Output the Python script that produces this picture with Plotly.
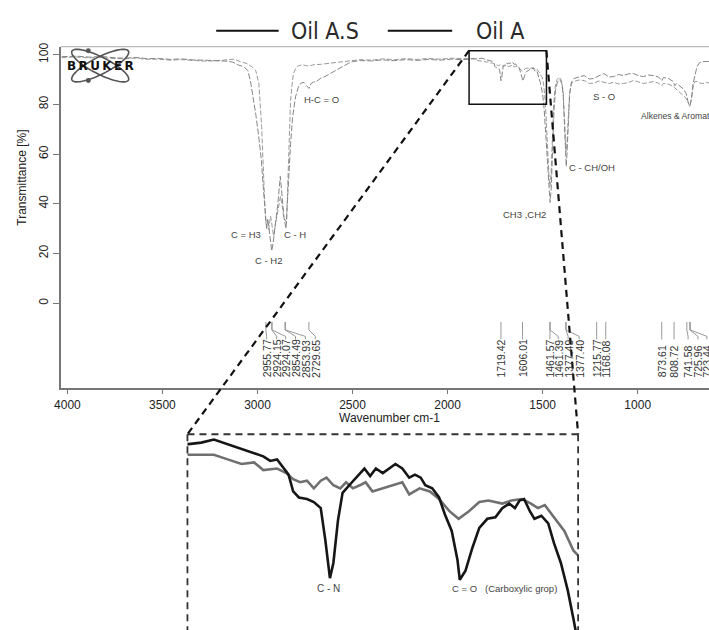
import numpy as np
import plotly.graph_objects as go

# ---------------- data ----------------
legend_names = ["Oil A.S", "Oil A"]

oilA_wn = [4030, 3950, 3880, 3820, 3760, 3700, 3640, 3580, 3520, 3460, 3400, 3340, 3280, 3220, 3160, 3130,
           3100, 3072, 3050, 3035, 3020, 3009, 2995, 2980, 2968, 2958, 2952, 2946, 2938, 2925, 2918, 2906,
           2893, 2880, 2870, 2860, 2850, 2843, 2836, 2826, 2815, 2800, 2785, 2770, 2755, 2743, 2729, 2718,
           2706, 2690, 2670, 2645, 2618, 2585, 2550, 2520, 2500, 2460, 2400, 2340, 2280, 2220, 2160, 2100,
           2040, 1980, 1920, 1880, 1860,
           1842, 1831, 1820, 1808, 1796, 1787, 1777, 1771, 1765, 1759, 1755, 1751, 1746, 1739, 1733, 1727,
           1723, 1719, 1716, 1712, 1708, 1701, 1693, 1689, 1684, 1679, 1673, 1667, 1662, 1656, 1650, 1645,
           1640, 1636, 1630, 1624, 1619, 1613, 1608, 1606, 1601, 1595, 1589, 1582, 1575, 1569, 1563, 1558,
           1554, 1550, 1545, 1541, 1535, 1529, 1524, 1518, 1512, 1507,
           1500, 1492, 1484, 1476, 1468, 1461, 1455, 1448, 1440, 1432, 1422, 1410, 1400, 1392, 1385, 1380,
           1376, 1372, 1366, 1358, 1348, 1335, 1310, 1282, 1255, 1230, 1205, 1178, 1150, 1126, 1100, 1074,
           1048, 1022, 995, 969, 943, 917, 890, 873, 865, 840, 813, 805, 795, 777, 760, 745,
           735, 724, 716, 709, 698, 688, 675, 657, 625]
oilA_t = [99.2, 99.4, 99.0, 99.3, 98.8, 98.6, 98.9, 98.4, 98.5, 98.1, 98.3, 97.9, 97.8, 97.7, 97.4, 97.0,
          95.8, 95.2, 93.5, 88.5, 82.0, 76.0, 68.0, 58.0, 45.0, 33.0, 30.0, 34.0, 29.0, 21.0, 24.0, 31.0,
          40.0, 51.0, 43.0, 34.0, 30.0, 38.0, 50.0, 64.0, 75.0, 83.0, 87.0, 88.6, 88.8, 87.6, 86.4, 88.4,
          89.0, 89.2, 90.4, 91.2, 92.4, 93.6, 95.2, 96.6, 97.2, 97.6, 97.5, 97.9, 97.6, 98.0, 97.7, 98.1,
          97.8, 98.2, 98.0, 98.4, 98.3,
          98.3, 98.4, 98.6, 98.3, 98.0, 97.8, 97.5, 97.2, 97.3, 96.7, 96.3, 95.2, 94.8, 94.7, 94.5, 94.1,
          92.0, 89.5, 90.5, 93.3, 95.1, 95.7, 96.4, 96.7, 96.2, 96.7, 96.4, 96.7, 97.0, 96.7, 96.1, 96.3,
          96.1, 95.6, 95.4, 94.8, 93.7, 92.6, 90.7, 89.4, 90.0, 91.5, 92.8, 93.4, 93.5, 94.1, 94.4, 94.1,
          94.6, 94.7, 93.9, 93.4, 93.6, 93.1, 91.8, 90.5, 88.7, 86.8,
          84.0, 78.0, 68.0, 56.0, 45.0, 40.5, 46.0, 62.0, 78.0, 86.0, 89.0, 90.0, 88.5, 84.0, 72.0, 60.0,
          55.0, 60.0, 72.0, 84.0, 89.0, 90.4, 91.0, 91.6, 90.2, 90.4, 91.5, 92.4, 91.0, 91.2, 92.0, 91.6,
          92.3, 92.4, 91.5, 91.2, 91.8, 91.6, 91.0, 89.5, 90.8, 90.5, 89.2, 87.5, 88.4, 87.2, 86.2, 84.4,
          81.0, 79.6, 83.0, 88.4, 92.0, 95.2, 96.8, 97.2, 97.3]

oilAS_wn = [4030, 3960, 3890, 3830, 3770, 3700, 3640, 3580, 3520, 3460, 3400, 3340, 3280, 3220, 3160, 3124,
            3090, 3056, 3030, 3009, 2993, 2985, 2978, 2967, 2957, 2950, 2941, 2931, 2922, 2915, 2907, 2899,
            2889, 2879, 2870, 2863, 2855, 2847, 2842, 2837, 2832, 2826, 2818, 2811, 2798, 2785, 2760, 2740,
            2722, 2700, 2670, 2639, 2580, 2513, 2460, 2400, 2340, 2280, 2220, 2160, 2100, 2040, 1980, 1920,
            1880, 1860,
            1842, 1831, 1820, 1808, 1796, 1785, 1777, 1765, 1757, 1751, 1745, 1739, 1733, 1727, 1722, 1716,
            1710, 1705, 1699, 1693, 1688, 1682, 1673, 1664, 1656, 1650, 1641, 1632, 1624, 1615, 1607, 1598,
            1589, 1581, 1569, 1561, 1552, 1544, 1538, 1532, 1524, 1515, 1507, 1503,
            1495, 1487, 1480, 1472, 1466, 1461, 1456, 1449, 1442, 1434, 1424, 1412, 1400, 1392, 1386, 1381,
            1377, 1372, 1366, 1358, 1348, 1335, 1310, 1282, 1255, 1230, 1205, 1178, 1150, 1126, 1100, 1074,
            1048, 1022, 995, 969, 943, 917, 890, 873, 865, 840, 813, 795, 777, 760, 745, 735,
            726, 718, 709, 700, 688, 675, 657, 640, 625]
oilAS_t = [98.8, 99.1, 98.7, 98.9, 98.5, 98.3, 98.6, 98.1, 98.2, 97.8, 98.0, 97.6, 97.4, 97.5, 97.9, 98.2,
           97.2, 96.4, 95.2, 93.6, 88.4, 80.0, 71.0, 50.0, 32.4, 31.0, 29.6, 35.0, 31.0, 27.0, 31.0, 35.0,
           40.0, 43.0, 39.0, 35.0, 33.5, 32.4, 45.0, 57.6, 70.0, 81.6, 88.0, 92.4, 94.6, 95.6, 95.9, 95.5,
           95.6, 96.0, 96.1, 96.4, 96.9, 97.6, 98.0, 97.8, 98.3, 98.0, 98.4, 98.1, 98.5, 98.2, 98.6, 98.4,
           98.6, 98.5,
           97.6, 97.6, 97.6, 97.3, 97.0, 97.1, 96.6, 96.7, 96.4, 96.0, 95.8, 95.9, 95.4, 95.9, 96.1, 95.6,
           95.4, 95.8, 95.4, 95.6, 95.8, 95.2, 95.4, 95.6, 95.8, 95.0, 95.4, 95.2, 94.7, 93.9, 93.4, 93.9,
           94.5, 94.6, 94.4, 94.6, 94.7, 94.4, 94.1, 94.3, 93.5, 92.6, 91.3, 91.0,
           88.0, 82.0, 72.0, 58.0, 50.0, 47.0, 52.0, 66.0, 80.0, 87.0, 90.0, 91.0, 89.5, 85.0, 76.0, 66.0,
           61.0, 64.0, 75.0, 85.0, 88.5, 89.2, 89.8, 89.6, 88.4, 88.6, 89.4, 89.0, 88.4, 88.9, 88.2, 88.4,
           88.8, 89.6, 88.9, 88.4, 88.8, 89.2, 88.5, 87.5, 88.4, 88.2, 87.2, 86.0, 85.0, 83.5, 82.4, 80.5,
           79.2, 82.0, 87.0, 89.2, 89.2, 88.6, 88.4, 88.8, 88.6]

peak_wn = [2955.77, 2924.15, 2924.07, 2854.49, 2853.93, 2729.65, 1719.42, 1606.01, 1461.57, 1461.39,
           1377.49, 1377.40, 1215.77, 1168.08, 873.61, 808.72, 741.58, 725.96, 723.44]
peak_text = ["2955.77", "2924.15", "2924.07", "2854.49", "2853.93", "2729.65", "1719.42", "1606.01",
             "1461.57", "1461.39", "1377.49", "1377.40", "1215.77", "1168.08", "873.61", "808.72",
             "741.58", "725.96", "723.44"]
x_ticks = [4000, 3500, 3000, 2500, 2000, 1500, 1000]
y_ticks = [0, 20, 40, 60, 80, 100]

assert len(oilA_wn) == len(oilA_t)
assert len(oilAS_wn) == len(oilAS_t)

# ---------------- layout helpers ----------------
W, H = 709, 630
def px(x):
    return x / W
def py(y):
    return 1 - y / H

# where the rotated peak labels sit (layout, wavenumber units)
label_pos = [2952, 2899, 2852, 2800, 2748, 2696, 1719.42, 1606.01, 1461.57, 1418, 1366, 1308,
             1215.77, 1168.08, 873.61, 808.72, 735, 683, 636]

FONT = "Liberation Sans, Arial, sans-serif"
fig = go.Figure()

# main spectrum
fig.add_trace(go.Scatter(x=oilAS_wn, y=oilAS_t, mode="lines", xaxis="x", yaxis="y",
                         line=dict(color="#9a9a9a", width=1, dash="5px,2px"), showlegend=False,
                         name=legend_names[0]))
fig.add_trace(go.Scatter(x=oilA_wn, y=oilA_t, mode="lines", xaxis="x", yaxis="y",
                         line=dict(color="#858585", width=1, dash="6px,2px"), showlegend=False,
                         name=legend_names[1]))
# zoomed inset
fig.add_trace(go.Scatter(x=oilAS_wn, y=oilAS_t, mode="lines", xaxis="x2", yaxis="y2",
                         line=dict(color="#707070", width=2.6), showlegend=False, name=legend_names[0]))
fig.add_trace(go.Scatter(x=oilA_wn, y=oilA_t, mode="lines", xaxis="x2", yaxis="y2",
                         line=dict(color="#161616", width=2.6), showlegend=False, name=legend_names[1]))

shapes = []
annotations = []

# top frame line of the main plot
shapes.append(dict(type="line", xref="paper", yref="paper", x0=px(55), x1=1, y0=py(43), y1=py(43),
                   line=dict(color="#a8a8a8", width=1)))

# peak leader lines and labels
for pk, lp, txt in zip(peak_wn, label_pos, peak_text):
    path = f"M {pk},-7.6 L {pk},-10.8 L {lp},-13.4 L {lp},-14.6"
    shapes.append(dict(type="path", xref="x", yref="y", path=path,
                       line=dict(color="#8c8c8c", width=0.9)))
    annotations.append(dict(x=lp, y=-30.8, xref="x", yref="y", text=txt, showarrow=False,
                            textangle=-90, xanchor="center", yanchor="bottom",
                            font=dict(family=FONT, size=10.5, color="#333")))

# zoom box on main plot
shapes.append(dict(type="rect", xref="x", yref="y", x0=1887, x1=1480, y0=80, y1=101.6,
                   line=dict(color="#111", width=1.5)))
# connectors
shapes.append(dict(type="line", xref="paper", yref="paper", x0=px(467), y0=py(47), x1=px(183), y1=py(433),
                   line=dict(color="#111", width=2.2, dash="7px,5px")))
shapes.append(dict(type="line", xref="paper", yref="paper", x0=px(545), y0=py(47), x1=px(577), y1=py(433),
                   line=dict(color="#111", width=2.2, dash="7px,5px")))
# inset frame (dashed)
for (x0, y0, x1, y1) in [(183, 433, 577, 433), (183, 433, 183, 630), (577, 433, 577, 630)]:
    shapes.append(dict(type="line", xref="paper", yref="paper", x0=px(x0), y0=py(y0), x1=px(x1), y1=py(y1),
                       line=dict(color="#333", width=1.8, dash="7px,5px")))

# legend
legend_layout = [((212, 275), 285), ((385, 450), 472)]
for name, ((lx0, lx1), tx) in zip(legend_names, legend_layout):
    shapes.append(dict(type="line", xref="paper", yref="paper", x0=px(lx0), x1=px(lx1), y0=py(27), y1=py(27),
                       line=dict(color="#111", width=2)))
    annotations.append(dict(x=px(tx), y=py(27), xref="paper", yref="paper", text=name, showarrow=False,
                            xanchor="left", yanchor="middle",
                            font=dict(family="Liberation Sans Narrow, DejaVu Sans Condensed, Liberation Sans, sans-serif",
                                      size=23, color="#2a2a2a")))

# Bruker logo
def ell(cx, cy, a, b, deg, n=72):
    th = np.linspace(0, 2 * np.pi, n)
    r = np.deg2rad(deg)
    xs = cx + a * np.cos(th) * np.cos(r) - b * np.sin(th) * np.sin(r)
    ys = cy + a * np.cos(th) * np.sin(r) + b * np.sin(th) * np.cos(r)
    return "M " + " L ".join(f"{px(x):.5f},{py(y):.5f}" for x, y in zip(xs, ys)) + " Z"

for deg in (27, -27):
    shapes.append(dict(type="path", xref="paper", yref="paper", path=ell(95, 62, 32, 8.5, deg),
                       line=dict(color="#555", width=1.6)))
for (dx, dy) in [(83, 47), (83, 77)]:
    shapes.append(dict(type="circle", xref="paper", yref="paper", x0=px(dx - 2.5), x1=px(dx + 2.5),
                       y0=py(dy + 2.5), y1=py(dy - 2.5), fillcolor="#555", line=dict(width=0)))
annotations.append(dict(x=px(95), y=py(62), xref="paper", yref="paper",
                        text="<b>B\u2009R\u2009U\u2009K\u2009E\u2009R</b>", showarrow=False,
                        xanchor="center", yanchor="middle",
                        font=dict(family="DejaVu Sans, sans-serif", size=12, color="#111")))

# band labels on main plot
def lab(x, y, text, size=9.5, anchor="center", color="#444", angle=0):
    annotations.append(dict(x=px(x), y=py(y), xref="paper", yref="paper", text=text, showarrow=False,
                            xanchor=anchor, yanchor="middle", textangle=angle,
                            font=dict(family=FONT, size=size, color=color)))

lab(318, 96, "H-C = O")
lab(242, 232, "C = H3")
lab(291, 232, "C - H")
lab(265, 258, "C - H2")
lab(523, 212, "CH3 ,CH2")
lab(591, 165, "C - CH/OH")
lab(603, 93, "S - O")
lab(638, 113, "Alkenes &amp; Aromatics", size=8.6, anchor="left")
# inset labels
lab(325, 588, "C - N", size=10)
lab(448, 588, "C = O\u00a0\u00a0\u00a0(Carboxylic grop)", size=9.5, anchor="left")

# axis titles
lab(387, 417, "Wavenumber cm-1", size=12, color="#222")
lab(16, 175, "Transmittance [%]", size=12, color="#222", angle=-90)

fig.update_layout(
    width=W, height=H, margin=dict(l=0, r=0, t=0, b=0),
    paper_bgcolor="white", plot_bgcolor="white",
    font=dict(family=FONT, size=12, color="#222"),
    xaxis=dict(domain=[px(55), 1], range=[4036, 625], tickvals=x_ticks, ticks="outside", ticklen=5,
               tickcolor="#777", showline=True, linecolor="#777", linewidth=1.5, showgrid=False,
               zeroline=False, anchor="y", tickfont=dict(size=12, color="#222")),
    yaxis=dict(domain=[py(386), py(43)], range=[-34, 103.2], tickvals=y_ticks, tickangle=-90,
               ticks="outside", ticklen=6, tickcolor="#777", showline=True, linecolor="#777", linewidth=2,
               showgrid=False, zeroline=False, anchor="x", tickfont=dict(size=12, color="#222")),
    xaxis2=dict(domain=[px(183), px(577)], range=[1843, 1503], visible=False, anchor="y2"),
    yaxis2=dict(domain=[0, py(433)], range=[86.1, 98.95], visible=False, anchor="x2"),
    shapes=shapes, annotations=annotations, showlegend=False,
)

fig.write_html("out.html")
